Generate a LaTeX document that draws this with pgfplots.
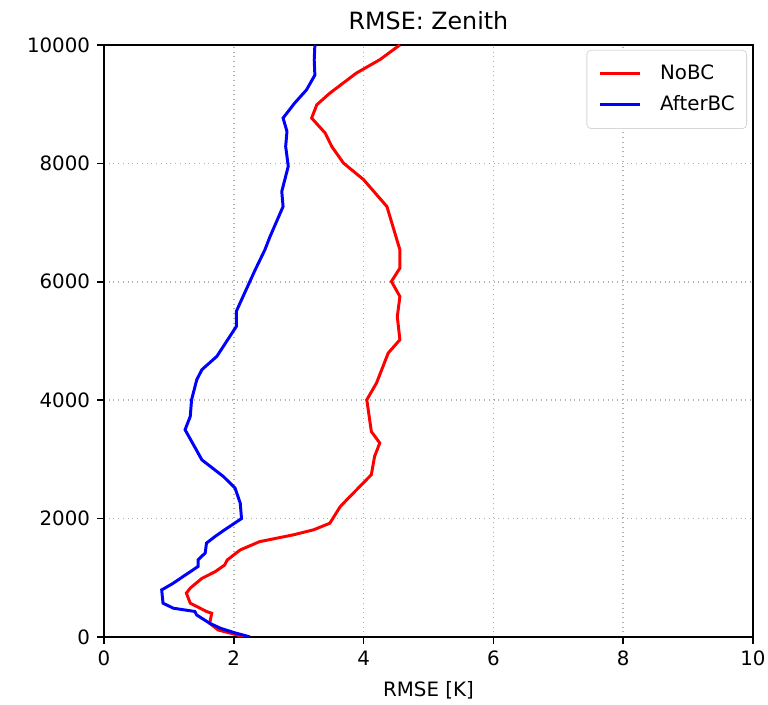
\documentclass[border=0pt]{standalone}
\usepackage{fontspec}
\setmainfont{DejaVu Sans}
\usepackage{pgfplots}
\pgfplotsset{compat=1.18}
\definecolor{gridgray}{RGB}{176,176,176}
\definecolor{legborder}{RGB}{215,215,215}
\begin{document}
\begin{tikzpicture}
\begin{axis}[
  scale only axis,
  width=327.8pt, height=299pt,
  xmin=0, xmax=10, ymin=0, ymax=10000,
  xtick={0,2,4,6,8,10},
  ytick={0,2000,4000,6000,8000,10000},
  /pgf/number format/assume math mode=true,
  /pgf/number format/1000 sep={},
  scaled y ticks=false,
  tick align=outside,
  tick pos=left,
  major tick length=3.5pt,
  tick style={black, line width=0.8pt},
  axis line style={black, line width=0.8pt},
  grid=major,
  major grid style={gridgray, dotted, line width=0.8pt},
  ticklabel style={font=\fontsize{10}{12}\selectfont},
  title={RMSE: Zenith},
  title style={font=\fontsize{12}{14}\selectfont, yshift=-2pt},
  xlabel={RMSE [K]},
  xlabel style={font=\fontsize{10}{12}\selectfont, yshift=-1pt},
  legend style={at={(1,1)}, anchor=north east, xshift=-3pt, yshift=-2.5pt,
    draw=legborder, rounded corners=2pt,
    font=\fontsize{10}{12}\selectfont, nodes={inner sep=0pt},
    column sep=9.5pt, row sep=6.5pt, inner xsep=6pt, inner ysep=7.5pt},
  legend cell align=left,
  legend image code/.code={\draw[#1] (0pt,0pt) -- (20pt,0pt);},
]
\addplot[red, line width=1.5pt] coordinates {
(2.2,0) (2.1,20) (1.76,118) (1.63,230) (1.66,400) (1.58,430) (1.33,570) (1.27,740)
(1.33,825) (1.51,990) (1.71,1100) (1.86,1215) (1.90,1300) (2.10,1470) (2.40,1610)
(2.92,1725) (3.23,1810) (3.48,1920) (3.64,2200) (3.74,2315) (4.12,2740) (4.17,3050)
(4.25,3275) (4.12,3470) (4.05,4005) (4.20,4290) (4.38,4795) (4.56,5020) (4.52,5410)
(4.56,5750) (4.43,6005) (4.56,6230) (4.56,6540) (4.36,7270) (4.00,7725) (3.69,8005)
(3.51,8285) (3.41,8510) (3.20,8765) (3.28,8990) (3.48,9185) (3.89,9525) (4.25,9750)
(4.56,10000)
};
\addlegendentry{NoBC}
\addplot[blue, line width=1.5pt] coordinates {
(2.25,0) (2.0,75) (1.8,145) (1.63,230) (1.43,370) (1.40,430) (1.07,485) (0.91,570)
(0.89,795) (1.05,895) (1.45,1190) (1.45,1300) (1.50,1357) (1.56,1415) (1.58,1585)
(1.71,1695) (1.86,1810) (2.12,2000) (2.10,2260) (2.02,2515) (1.84,2710) (1.51,2990)
(1.25,3500) (1.33,3725) (1.35,4005) (1.43,4345) (1.51,4515) (1.74,4740) (2.04,5245)
(2.04,5500) (2.12,5695) (2.33,6200) (2.48,6540) (2.56,6765) (2.76,7270) (2.74,7525)
(2.84,7950) (2.80,8285) (2.82,8540) (2.76,8765) (2.94,9020) (3.12,9240) (3.25,9490)
(3.24,9745) (3.25,10000)
};
\addlegendentry{AfterBC}
\end{axis}
\pgfresetboundingbox
\path (current axis.south west) ++(-52.5pt,-34.3pt) coordinate (bbsw);
\path (current axis.north east) ++(7.6pt,22.7pt) coordinate (bbne);
\useasboundingbox (bbsw) rectangle (bbne);
\end{tikzpicture}
\end{document}
